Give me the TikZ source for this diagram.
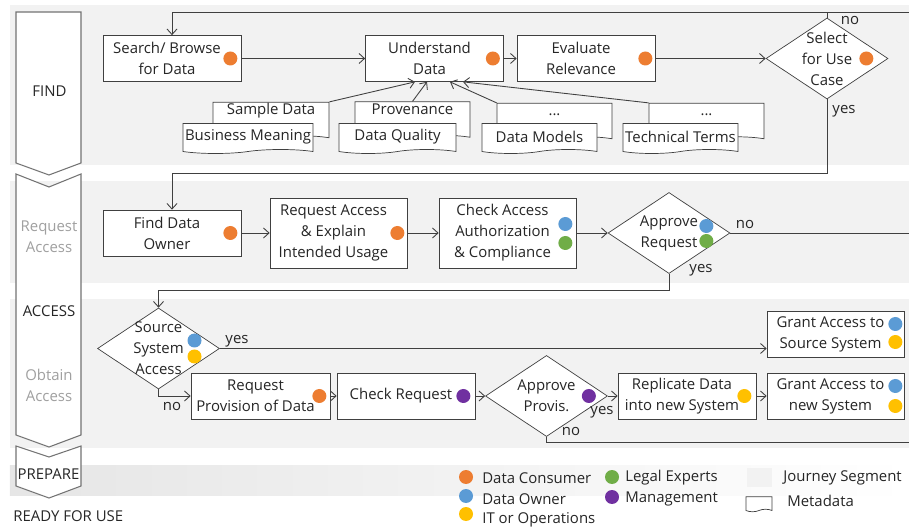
\documentclass[tikz,border=0pt]{standalone}
\usepackage{fontspec}
\setmainfont{Open Sans}
\usepackage{tikz}
\usetikzlibrary{shapes, shapes.symbols, arrows.meta, positioning}
\usepackage{xcolor}

\definecolor{consumer}{HTML}{ED7D31}
\definecolor{owner}{HTML}{5B9BD5}
\definecolor{itops}{HTML}{FFC000}
\definecolor{legal}{HTML}{70AD47}
\definecolor{mgmt}{HTML}{7030A0}
\definecolor{segment}{HTML}{F2F2F2}
\definecolor{linegray}{HTML}{404040}
\definecolor{textgray}{HTML}{262626}
\definecolor{phasegray}{HTML}{A0A0A0}

% 角色圆点
\newcommand{\actor}[2]{\fill[#1] (#2) circle (0.14);}

\begin{document}
\begin{tikzpicture}[>={Straight Barb[length=1.1mm,width=2mm]},
    font=\fontsize{8.5pt}{12pt}\selectfont,
    every node/.style={text=textgray},
    task/.style={draw=linegray, fill=white, rectangle, minimum width=2.76cm, minimum height=0.92cm, inner sep=0pt,
        label={[align=center, xshift=-0.1cm]center:#1}},
    decision/.style={draw=linegray, fill=white, diamond, minimum width=2.44cm, minimum height=1.62cm, inner sep=0pt,
        label={[align=center]center:#1}},
    meta/.style={draw=linegray, fill=white, tape, tape bend top=none, tape bend height=0.08cm, minimum width=2.3cm, minimum height=0.6cm, inner sep=1pt},
    metaback/.style={meta, text height=0.22cm, text depth=0.38cm},
    phase/.style={draw=black!55, fill=white, line width=0.6pt},
    band/.style={fill=segment},
    flow/.style={draw=linegray, line width=0.5pt, ->},
    lbl/.style={inner sep=1pt},
    legend/.style={anchor=west, inner sep=0pt}]
    \useasboundingbox (0,0) rectangle (18.18,10.56);

    % 背景分段
    \fill[band] (0.2,10.46) rectangle (18.18,7.26);
    \fill[band] (0.2,6.94) rectangle (18.18,4.90);
    \fill[band] (0.2,4.58) rectangle (18.18,1.60);
    \shade[left color=black!10, right color=white] (0.2,1.26) rectangle (18.18,0.66);

    % 左侧阶段箭头
    \draw[phase] (0.32,10.32) -- (1.62,10.32) -- (1.62,7.30) -- (0.98,7.06) -- (0.32,7.30) -- cycle;
    \draw[phase] (0.32,7.08) -- (0.98,6.82) -- (1.62,7.08) -- (1.62,1.86) -- (0.98,1.62) -- (0.32,1.86) -- cycle;
    \draw[phase] (0.32,1.64) -- (0.98,1.42) -- (1.62,1.64) -- (1.62,0.84) -- (0.98,0.60) -- (0.32,0.84) -- cycle;
    \node (find) at (0.99,8.74) {FIND};
    \node[align=center, text=phasegray] (reqacc) at (0.98,5.82) {Request\\Access};
    \node (access) at (0.98,4.34) {ACCESS};
    \node[align=center, text=phasegray] (obtacc) at (0.98,2.86) {Obtain\\Access};
    \node[inner sep=0pt] (prepare) at (0.97,1.08) {PREPARE};
    \node[legend] (ready) at (0.26,0.24) {READY FOR USE};

    % FIND
    \node[task={Search/ Browse\\for Data}] (search) at (3.44,9.39) {};
    \node[task={Understand\\Data}] (understand) at (8.69,9.39) {};
    \node[task={Evaluate\\Relevance}] (evaluate) at (11.72,9.39) {};
    \node[decision={Select\\for Use\\Case}] (select) at (16.54,9.39) {};

    % 元数据
    \node[metaback, minimum width=2.32cm] (sample) at (5.42,8.18) {Sample Data};
    \node[metaback] (provenance) at (8.25,8.19) {Provenance};
    \node[metaback] (moremodels) at (11.09,8.16) {...};
    \node[metaback] (moreterms) at (14.13,8.16) {...};
    \node[meta, minimum width=2.6cm] (business) at (4.96,7.83) {Business Meaning};
    \node[meta, minimum width=2.34cm] (quality) at (7.95,7.83) {Data Quality};
    \node[meta] (models) at (10.79,7.83) {Data Models};
    \node[meta] (terms) at (13.61,7.83) {Technical Terms};

    % Request Access
    \node[task={Find Data\\Owner}] (owner) at (3.44,5.90) {};
    \node[task={Request Access\\\& Explain\\Intended Usage}, minimum width=2.74cm, minimum height=1.4cm] (request) at (6.77,5.90) {};
    \node[task={Check Access\\Authorization\\\& Compliance}, minimum width=2.74cm, minimum height=1.4cm] (check) at (10.15,5.90) {};
    \node[decision={Approve\\Request}] (approve) at (13.38,5.90) {};

    % Obtain Access
    \node[decision={Source\\System\\Access}] (source) at (3.17,3.59) {};
    \node[task={Grant Access to\\Source System}, minimum width=2.74cm] (grantsrc) at (16.71,3.88) {};
    \node[task={Request\\Provision of Data}, minimum width=2.78cm] (provision) at (5.21,2.64) {};
    \node[task={Check Request}] (checkreq) at (8.12,2.64) {};
    \node[decision={Approve\\Provis.}] (approvep) at (10.93,2.64) {};
    \node[task={Replicate Data\\into new System}] (replicate) at (13.74,2.64) {};
    \node[task={Grant Access to\\new System}, minimum width=2.74cm] (grantnew) at (16.71,2.64) {};

    % 出口
    \coordinate (nofind) at (18.18,10.32);
    \coordinate (noreq) at (18.18,5.90);
    \coordinate (noprov) at (18.18,1.72);

    % 连线
    \draw[flow] (search) -- (understand);
    \draw[flow] (understand) -- (evaluate);
    \draw[flow] (evaluate) -- (select);
    \draw[flow, -] (select.north) -- (select.north |- nofind);
    \draw[flow] (nofind) -| (search.north);
    \draw[flow] (select.south) -- ++(0,-1.48) -| (owner.north);
    \draw[flow] (sample.north east) -- ([xshift=-0.39cm]understand.south);
    \draw[flow] (provenance.north) -- ([xshift=-0.15cm]understand.south);
    \draw[flow] (moremodels.north west) -- ([xshift=0.31cm]understand.south);
    \draw[flow] (moreterms.north west) -- ([xshift=0.57cm]understand.south);

    \draw[flow] (owner) -- (request);
    \draw[flow] (request) -- (check);
    \draw[flow] (check) -- (approve);
    \draw[flow, -] (approve.east) -- (noreq);
    \draw[flow] (approve.south) -- ++(0,-0.34) -| (source.north);

    \draw[flow] (source.east) -- (source.east -| grantsrc.west);
    \draw[flow] (source.south) |- (provision.west);
    \draw[flow] (provision) -- (checkreq);
    \draw[flow] (checkreq) -- (approvep);
    \draw[flow] (approvep) -- (replicate);
    \draw[flow, -] (approvep.south) |- (noprov);
    \draw[flow] (replicate) -- (grantnew);

    % 分支标注
    \node[lbl] (nosel) at (17.0,10.14) {no};
    \node[lbl] (yessel) at (16.88,8.34) {yes};
    \node[lbl] (noapp) at (14.9,6.06) {no};
    \node[lbl] (yesapp) at (14.02,5.16) {yes};
    \node[lbl] (yessrc) at (4.74,3.74) {yes};
    \node[lbl] (nosrc) at (3.44,2.42) {no};
    \node[lbl] (yesprov) at (12.04,2.32) {yes};
    \node[lbl] (noprovl) at (11.42,1.92) {no};

    % 角色
    \actor{consumer}{[xshift=-0.22cm]search.east}
    \actor{consumer}{[xshift=-0.22cm]understand.east}
    \actor{consumer}{[xshift=-0.2cm]evaluate.east}
    \actor{consumer}{[xshift=-0.44cm]select.east}
    \actor{consumer}{[xshift=-0.22cm]owner.east}
    \actor{consumer}{[xshift=-0.2cm]request.east}
    \actor{owner}{[xshift=-0.22cm, yshift=0.18cm]check.east}
    \actor{legal}{[xshift=-0.22cm, yshift=-0.2cm]check.east}
    \actor{owner}{[xshift=-0.48cm, yshift=0.14cm]approve.east}
    \actor{legal}{[xshift=-0.48cm, yshift=-0.16cm]approve.east}
    \actor{owner}{[xshift=0.72cm, yshift=0.16cm]source.center}
    \actor{itops}{[xshift=0.72cm, yshift=-0.16cm]source.center}
    \actor{owner}{[xshift=-0.18cm, yshift=0.2cm]grantsrc.east}
    \actor{itops}{[xshift=-0.18cm, yshift=-0.16cm]grantsrc.east}
    \actor{consumer}{[xshift=-0.22cm]provision.east}
    \actor{mgmt}{[xshift=-0.24cm]checkreq.east}
    \actor{mgmt}{[xshift=-0.38cm]approvep.east}
    \actor{itops}{[xshift=-0.24cm]replicate.east}
    \actor{owner}{[xshift=-0.18cm, yshift=0.2cm]grantnew.east}
    \actor{itops}{[xshift=-0.18cm, yshift=-0.2cm]grantnew.east}

    % 图例
    \actor{consumer}{9.32,1.02}
    \actor{owner}{9.32,0.64}
    \actor{itops}{9.32,0.28}
    \actor{legal}{12.24,1.02}
    \actor{mgmt}{12.24,0.62}
    \node[legend] (lgcons) at (9.64,1.00) {Data Consumer};
    \node[legend] (lgown) at (9.64,0.58) {Data Owner};
    \node[legend] (lgit) at (9.64,0.16) {IT or Operations};
    \node[legend] (lglegal) at (12.5,1.00) {Legal Experts};
    \node[legend] (lgmgmt) at (12.5,0.58) {Management};
    \fill[band] (14.94,1.20) rectangle (15.44,0.82);
    \node[meta, minimum width=0.52cm, minimum height=0.3cm, tape bend height=0.05cm] (lgmeta) at (15.18,0.50) {};
    \node[legend] (lgseg) at (15.66,1.00) {Journey Segment};
    \node[legend] (lgdoc) at (15.74,0.54) {Metadata};
\end{tikzpicture}
\end{document}
